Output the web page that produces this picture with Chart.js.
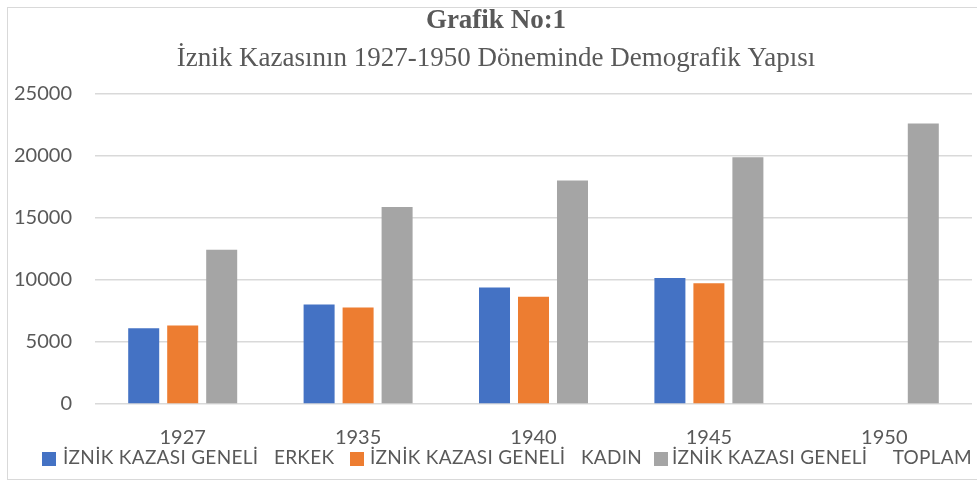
<!DOCTYPE html>
<html>
<head>
<meta charset="utf-8">
<script src="https://cdn.jsdelivr.net/npm/chart.js@4"></script>
<style>
  html, body { margin: 0; padding: 0; background: #fff; overflow: hidden; }
  #wrap { position: relative; width: 977px; height: 486px; overflow: hidden; }
  #frame { position: absolute; left: 7px; top: 7px; width: 990px; height: 473px; border: 1px solid #d9d9d9; box-sizing: border-box; }
  #chart { position: absolute; left: 0; top: 0; }
  #legend { position: absolute; left: 0; top: 0; width: 977px; height: 486px; pointer-events: none; }
  .lg-box { position: absolute; width: 14px; height: 14px; top: 452px; }
  .lg-text { position: absolute; top: 447px; white-space: pre; font: 19px Lato, sans-serif; letter-spacing: 0.3px; line-height: 20px; color: #595959; }
</style>
</head>
<body>
<div id="wrap">
  <div id="frame"></div>
  <canvas id="chart" width="992" height="486"></canvas>
  <div id="legend"></div>
</div>
<script>
const years = ['1927', '1935', '1940', '1945', '1950'];
const erkek = [6110, 8020, 9390, 10150, null];
const kadin = [6320, 7770, 8640, 9740, null];
const toplam = [12430, 15870, 18020, 19880, 22600];
const seriesNames = [
  'İZNİK KAZASI GENELİ   ERKEK',
  'İZNİK KAZASI GENELİ   KADIN',
  'İZNİK KAZASI GENELİ     TOPLAM'
];
const seriesColors = ['#4472C4', '#ED7D31', '#A5A5A5'];

const textColor = '#595959';

const ctx = document.getElementById('chart').getContext('2d');
const chart = new Chart(ctx, {
  type: 'bar',
  data: {
    labels: years,
    datasets: [erkek, kadin, toplam].map((d, i) => ({
      label: seriesNames[i],
      data: d,
      backgroundColor: seriesColors[i],
      categoryPercentage: 0.667,
      barPercentage: 0.795
    }))
  },
  options: {
    responsive: false,
    animation: false,
    layout: { padding: { left: 0, right: 0, top: 0, bottom: 32 } },
    plugins: {
      legend: { display: false },
      tooltip: { enabled: false },
      title: {
        display: true,
        text: 'Grafik No:1',
        color: textColor,
        font: { family: 'Liberation Serif', size: 27, weight: 'bold' },
        padding: { top: 5, bottom: 2 }
      },
      subtitle: {
        display: true,
        text: 'İznik Kazasının 1927-1950 Döneminde Demografik Yapısı',
        color: textColor,
        font: { family: 'Liberation Serif', size: 27 },
        padding: { top: 3, bottom: 19 }
      }
    },
    scales: {
      x: {
        grid: { display: false },
        border: { display: false },
        ticks: { color: textColor, font: { family: 'Lato', size: 20 }, padding: 14 },
        afterFit: s => { s.height = 50; }
      },
      y: {
        min: 0,
        max: 25000,
        grid: { color: '#d9d9d9', lineWidth: 1.5, drawTicks: false },
        border: { display: false },
        ticks: {
          stepSize: 5000,
          color: textColor,
          font: { family: 'Lato', size: 20 },
          padding: 23,
          callback: v => String(v)
        },
        afterFit: s => { s.width = 95; }
      },
      // empty right-hand spacer so the titles centre on the whole frame
      spacer: {
        position: 'right',
        display: true,
        grid: { display: false },
        border: { display: false },
        ticks: { display: false },
        afterFit: s => { s.width = 20; }
      }
    }
  }
});

// legend drawn as HTML so it can run off the right edge like the original
const legendPos = [[42, 63], [350, 370], [654, 672]];
const legend = document.getElementById('legend');
chart.data.datasets.forEach((ds, i) => {
  const box = document.createElement('div');
  box.className = 'lg-box';
  box.style.left = legendPos[i][0] + 'px';
  box.style.background = ds.backgroundColor;
  legend.appendChild(box);
  const t = document.createElement('div');
  t.className = 'lg-text';
  t.style.left = legendPos[i][1] + 'px';
  t.textContent = ds.label;
  legend.appendChild(t);
});
</script>
</body>
</html>
